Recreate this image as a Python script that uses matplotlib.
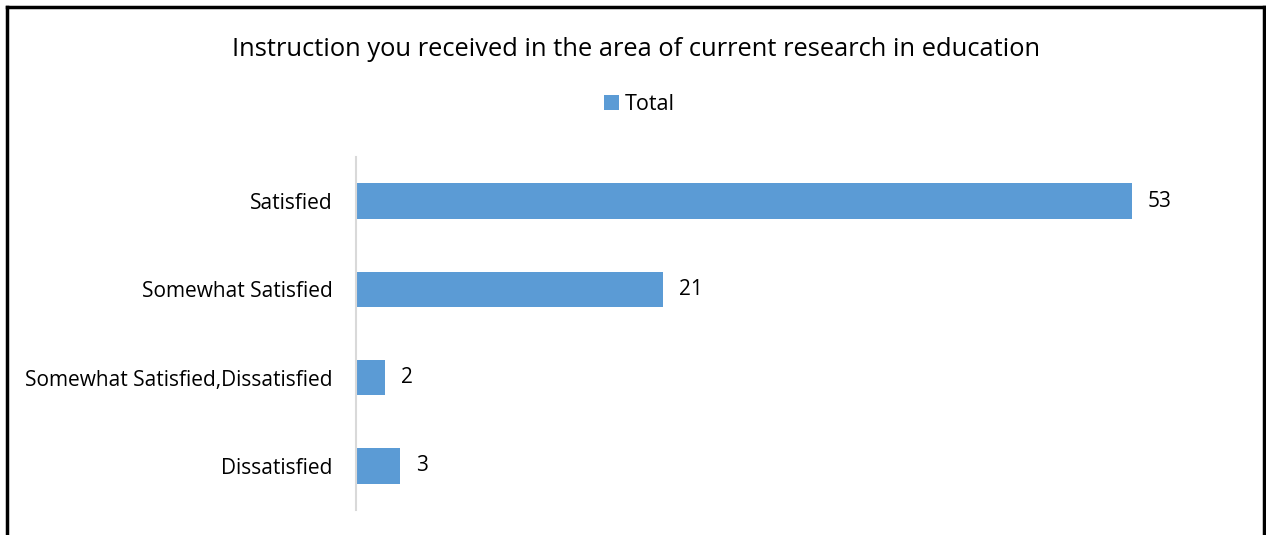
import matplotlib.pyplot as plt
from matplotlib.lines import Line2D

plt.rcParams['font.family'] = ['Open Sans', 'DejaVu Sans']

categories = ["Satisfied", "Somewhat Satisfied", "Somewhat Satisfied,Dissatisfied", "Dissatisfied"]
totals = [53, 21, 2, 3]
bar_color = "#5B9BD5"

fig = plt.figure(figsize=(12.66, 5.35), dpi=100)
ax = fig.add_axes([0.2812, 0.0467, 0.6935, 0.66])

ypos = list(range(len(categories)))[::-1]
bars = ax.barh(ypos, totals, height=0.4, color=bar_color, label="Total")
for y, v in zip(ypos, totals):
    ax.text(v + 1.1, y, str(v), va="center", ha="left", fontsize=15, color="black")

ax.set_xlim(0, 60)
ax.set_ylim(-0.5, 3.5)
ax.set_yticks(ypos)
ax.set_yticklabels(categories, fontsize=15)
ax.set_xticks([])
ax.tick_params(axis="y", length=0, pad=17)
for s in ["top", "right", "bottom"]:
    ax.spines[s].set_visible(False)
ax.spines["left"].set_color("#D9D9D9")
ax.spines["left"].set_linewidth(1.5)

fig.text(0.5025, 0.908, "Instruction you received in the area of current research in education",
         ha="center", va="center", fontsize=18.4)
fig.legend(handles=[bars], labels=["Total"], loc="center", bbox_to_anchor=(0.505, 0.805),
           frameon=False, fontsize=15.5, handlelength=0.7, handleheight=0.7, handletextpad=0.3)

# outer border (open at the bottom, as cropped)
W, H = 1266, 535
fig.add_artist(Line2D([7 / W, 7 / W], [0, 1 - 7 / H], color="black", lw=2.5, transform=fig.transFigure))
fig.add_artist(Line2D([1264 / W, 1264 / W], [0, 1 - 7 / H], color="black", lw=2.5, transform=fig.transFigure))
fig.add_artist(Line2D([7 / W, 1264 / W], [1 - 7 / H, 1 - 7 / H], color="black", lw=2.5, transform=fig.transFigure))

fig.savefig("out.png", dpi=100)
